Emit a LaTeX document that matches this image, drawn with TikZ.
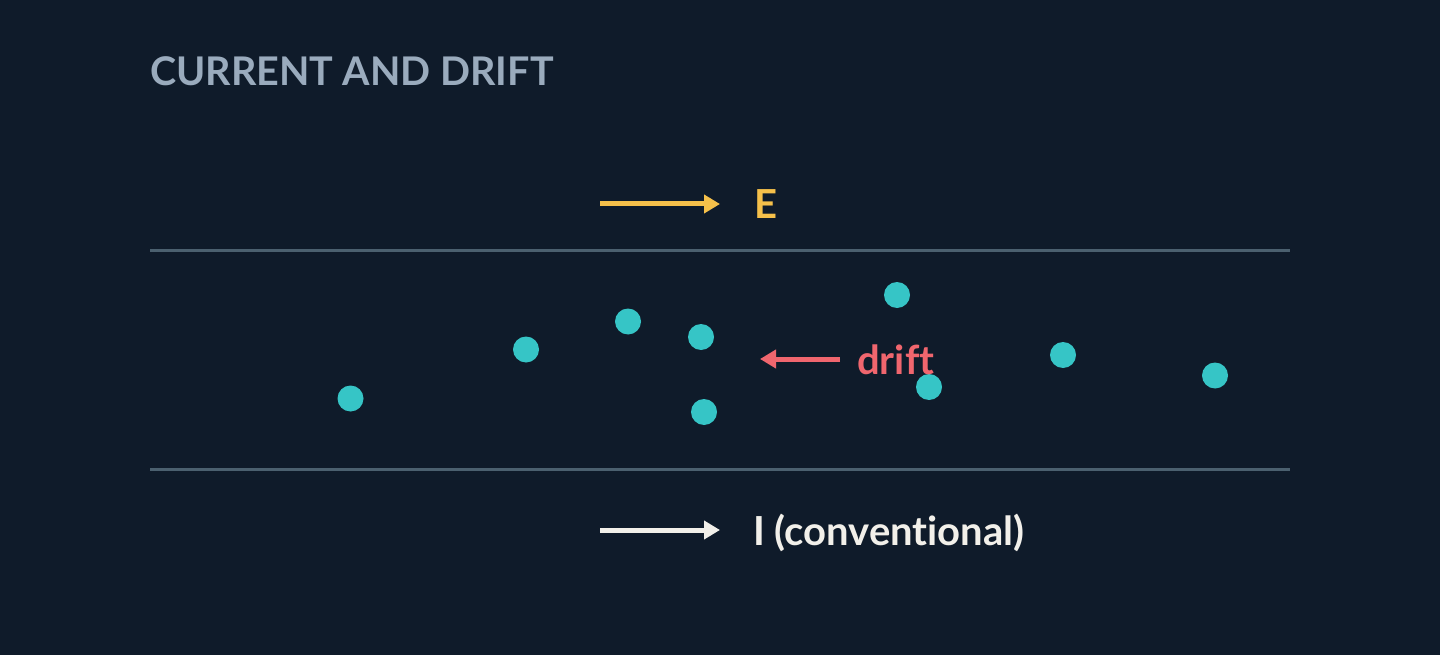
\documentclass[tikz,border=0pt]{standalone}
\usepackage{fontspec}
\setmainfont{Lato}[Ligatures={NoCommon,NoRare}]
\usetikzlibrary{arrows.meta}
\definecolor{bg}{HTML}{0F1B2A}
\definecolor{titlec}{HTML}{9AABBD}
\definecolor{wirec}{HTML}{4B606F}
\definecolor{efield}{HTML}{F5C04A}
\definecolor{driftc}{HTML}{F0666E}
\definecolor{dotc}{HTML}{36C5C6}
\definecolor{curc}{HTML}{F2F0EA}
\tikzset{
  dot/.style={circle,fill=dotc,inner sep=0pt,minimum size=26pt},
  wire/.style={draw=wirec,line width=3pt},
  arr/.style={line width=5pt,-{Triangle[length=16pt,width=18pt]}},
  lbl/.style={anchor=base west,inner sep=0pt,font=\fontsize{40}{46}\selectfont\bfseries},
}
\begin{document}
\begin{tikzpicture}[x=1pt,y=-1pt]
\useasboundingbox (0,0) rectangle (1440,655);
\fill[bg] (0,0) rectangle (1440,655);
\node[anchor=base west,inner sep=0pt,text=titlec,font=\fontsize{39.5}{46}\selectfont\bfseries] (title) at (150,86) {CURRENT AND DRIFT};
% E field
\coordinate (e1) at (600,204);
\coordinate (e2) at (720,204);
\draw[arr,draw=efield,fill=efield] (e1) -- (e2);
\node[lbl,text=efield] (E) at (754,218.5) {E};
% wires
\coordinate (w1a) at (150,250); \coordinate (w1b) at (1290,250);
\coordinate (w2a) at (150,469); \coordinate (w2b) at (1290,469);
\draw[wire] (w1a) -- (w1b);
\draw[wire] (w2a) -- (w2b);
% electrons
\node[dot] (d1) at (350.5,398.5) {};
\node[dot] (d2) at (526,349.5) {};
\node[dot] (d3) at (628,321.5) {};
\node[dot] (d4) at (701,337) {};
\node[dot] (d5) at (704,412) {};
\node[dot] (d6) at (897,295) {};
\node[dot] (d7) at (929,387) {};
\node[dot] (d8) at (1063,355) {};
\node[dot] (d9) at (1215,375.5) {};
% drift
\coordinate (r1) at (840,359);
\coordinate (r2) at (760,359);
\draw[arr,draw=driftc,fill=driftc] (r1) -- (r2);
\node[lbl,text=driftc] (drift) at (857,374) {drift};
% current
\coordinate (c1) at (600,530);
\coordinate (c2) at (720,530);
\draw[arr,draw=curc,fill=curc] (c1) -- (c2);
\node[lbl,text=curc] (I) at (753,545) {I (conventional)};
\end{tikzpicture}
\end{document}
